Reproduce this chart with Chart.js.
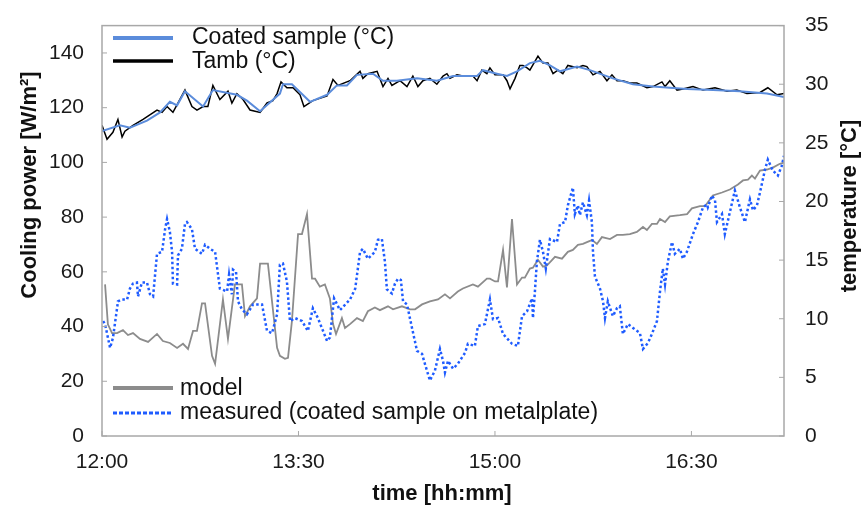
<!DOCTYPE html>
<html>
<head>
<meta charset="utf-8">
<script src="https://cdn.jsdelivr.net/npm/chart.js@4"></script>
<style>
html, body { margin: 0; padding: 0; background: #fff; }
#wrap { width: 864px; height: 509px; }
</style>
</head>
<body>
<div id="wrap"><canvas id="chart" width="864" height="509"></canvas></div>
<script>
// time in minutes after 12:00
const timeTicks = [0, 90, 180, 270];
const timeLabels = ['12:00', '13:30', '15:00', '16:30'];
const powerTicks = [0, 20, 40, 60, 80, 100, 120, 140];
const tempTicks = [0, 5, 10, 15, 20, 25, 30, 35];

const coatedTime = [0, 8.2, 12.8, 20.6, 26.6, 31.1, 34.4, 38.0, 46.3, 50.8, 61.8, 66.4, 72.4, 81.5, 82.9, 87.0, 95.3, 103.1, 107.6, 112.2, 116.8, 124.1, 128.7, 135.1, 144.3, 153.4, 160.8, 171.8, 174.5, 180.9, 185.5, 190.1, 196.0, 200.6, 205.2, 209.8, 217.6, 223.5, 234.0, 243.2, 252.4, 260.1, 268.0, 279.9, 292.2, 304.6, 312.4];
const coatedTemp = [26.0, 26.5, 26.3, 26.9, 27.6, 28.5, 28.2, 29.4, 28.1, 29.5, 29.1, 28.6, 27.7, 29.2, 30.0, 30.0, 28.5, 29.1, 29.9, 29.9, 30.8, 30.9, 30.3, 30.3, 30.5, 30.3, 30.7, 30.7, 31.2, 30.9, 30.7, 31.1, 31.8, 32.0, 31.6, 31.1, 31.5, 31.2, 30.5, 30.0, 29.8, 29.7, 29.6, 29.5, 29.4, 29.2, 28.9];

const tambTime = [0, 2.3, 5.0, 7.3, 9.2, 10.5, 14.2, 18.8, 25.2, 27.5, 29.8, 32.5, 35.7, 38.0, 41.2, 43.5, 46.3, 48.5, 50.8, 54.0, 57.7, 59.5, 61.8, 64.6, 67.8, 72.4, 75.6, 78.3, 80.2, 82.0, 84.7, 87.5, 90.7, 92.5, 96.6, 103.1, 105.8, 108.1, 113.6, 118.2, 119.5, 121.8, 126.0, 128.7, 131.0, 132.8, 136.5, 139.7, 142.4, 144.7, 147.0, 150.2, 153.4, 156.2, 158.0, 159.4, 162.6, 165.3, 169.9, 171.8, 174.0, 176.3, 177.7, 180.0, 183.7, 185.5, 186.9, 189.2, 191.4, 192.8, 194.7, 196.0, 199.7, 202.0, 204.3, 206.6, 208.8, 211.1, 213.4, 217.6, 220.3, 222.1, 224.9, 228.1, 231.3, 233.6, 235.9, 238.6, 241.8, 245.0, 249.6, 252.4, 256.5, 257.9, 260.1, 263.4, 266.1, 270.7, 275.3, 280.8, 286.3, 290.8, 295.4, 301.4, 305.0, 309.2, 312.4];
const tambTemp = [26.5, 25.3, 25.9, 27.0, 25.5, 26.0, 26.5, 27.0, 27.8, 27.6, 28.1, 27.6, 28.7, 29.5, 28.1, 27.8, 28.1, 28.1, 29.9, 28.7, 29.4, 28.4, 29.2, 28.7, 27.8, 27.6, 28.4, 28.6, 29.2, 30.2, 29.7, 29.7, 29.1, 28.1, 28.6, 29.0, 30.4, 29.9, 30.3, 31.1, 30.5, 30.9, 31.1, 29.8, 30.5, 29.9, 30.3, 29.8, 30.7, 29.8, 30.3, 30.5, 30.0, 30.7, 30.9, 30.5, 30.8, 30.7, 30.7, 30.3, 31.2, 30.9, 31.4, 30.8, 30.8, 30.3, 29.6, 30.5, 31.6, 31.6, 31.4, 31.2, 32.4, 31.8, 31.8, 30.9, 31.2, 30.9, 31.6, 31.4, 31.6, 31.5, 30.8, 31.1, 30.3, 30.8, 30.3, 30.3, 30.1, 30.1, 29.7, 29.8, 30.2, 29.8, 30.3, 29.5, 29.6, 29.8, 29.5, 29.7, 29.4, 29.5, 29.2, 29.3, 29.7, 29.1, 29.2];

const modelTime = [1.4, 2.7, 4.6, 6.9, 9.6, 11.9, 14.2, 17.4, 21.1, 25.2, 27.9, 31.1, 34.4, 37.1, 39.4, 41.7, 43.5, 45.8, 47.2, 50.4, 51.8, 55.4, 57.7, 60.9, 64.1, 65.5, 67.8, 71.0, 72.4, 76.0, 80.2, 81.5, 83.8, 85.2, 87.0, 89.8, 91.6, 93.9, 96.2, 97.6, 99.8, 102.1, 104.4, 105.8, 107.2, 109.9, 111.3, 113.6, 116.8, 119.5, 121.8, 125.0, 127.3, 131.0, 133.3, 137.4, 141.1, 143.4, 146.6, 150.2, 153.9, 157.1, 159.4, 163.0, 165.3, 169.9, 172.2, 176.3, 177.7, 180.0, 181.4, 183.7, 185.5, 187.8, 190.1, 192.4, 193.7, 196.0, 197.4, 199.7, 202.0, 203.8, 207.5, 210.7, 213.4, 215.7, 218.0, 220.3, 223.5, 224.4, 226.7, 229.0, 232.7, 235.9, 238.6, 241.8, 245.0, 247.8, 249.6, 251.9, 254.2, 255.6, 257.9, 260.1, 264.7, 268.0, 270.2, 273.9, 276.2, 279.8, 284.0, 287.6, 291.3, 293.6, 295.9, 297.7, 299.1, 301.4, 304.6, 307.3, 310.5, 312.4];
const modelPower = [55.4, 40.8, 37.6, 37.6, 38.7, 36.9, 37.6, 35.5, 34.4, 37.3, 34.7, 34.0, 32.2, 33.7, 31.8, 38.4, 38.4, 48.5, 48.5, 29.3, 26.4, 49.9, 35.5, 55.4, 55.4, 43.8, 47.4, 50.3, 63.0, 63.0, 32.2, 29.3, 28.2, 28.6, 42.0, 73.8, 73.8, 81.1, 57.5, 57.5, 54.6, 55.4, 50.3, 41.0, 37.3, 43.1, 39.5, 40.9, 43.1, 42.0, 45.6, 47.0, 46.0, 47.4, 46.3, 47.4, 46.3, 46.3, 48.1, 49.2, 49.9, 51.8, 50.3, 52.8, 53.9, 55.4, 54.6, 57.5, 57.5, 56.5, 56.5, 68.0, 54.3, 79.3, 55.4, 57.9, 57.9, 61.2, 61.5, 64.4, 61.9, 62.3, 65.5, 64.8, 67.3, 68.0, 69.9, 70.2, 71.3, 71.7, 70.2, 72.7, 72.0, 73.5, 73.5, 73.8, 74.6, 76.4, 75.3, 77.5, 77.5, 79.3, 78.2, 80.3, 80.7, 81.1, 83.2, 84.0, 84.0, 87.9, 89.0, 90.1, 91.9, 93.4, 93.7, 95.2, 94.1, 97.0, 97.4, 98.1, 99.5, 99.9];

const measuredTime = [0.5, 1.4, 3.7, 5.0, 6.9, 7.3, 9.2, 11.5, 12.8, 14.2, 16.0, 16.5, 18.3, 20.6, 22.0, 23.4, 25.2, 27.5, 28.9, 29.8, 31.1, 32.1, 32.5, 34.4, 34.8, 36.6, 38.0, 38.9, 41.2, 42.6, 45.8, 47.2, 49.5, 51.8, 54.0, 57.3, 58.2, 59.5, 60.0, 61.4, 62.3, 64.1, 66.4, 69.2, 73.3, 75.6, 77.9, 80.2, 81.5, 82.9, 84.7, 86.1, 88.4, 91.6, 94.3, 96.6, 98.9, 103.1, 104.4, 106.3, 109.0, 113.6, 116.0, 118.2, 119.5, 121.8, 125.0, 126.4, 128.2, 129.6, 130.5, 132.8, 134.2, 135.6, 136.9, 137.9, 139.7, 142.0, 144.3, 146.6, 147.9, 150.2, 152.5, 154.8, 156.2, 157.1, 158.5, 160.8, 163.0, 166.3, 167.6, 170.8, 172.2, 175.4, 177.7, 179.1, 181.4, 183.7, 187.8, 190.5, 192.4, 194.7, 197.0, 197.4, 198.3, 199.2, 200.6, 202.0, 203.3, 205.2, 208.4, 209.8, 212.1, 213.4, 215.7, 216.6, 218.0, 218.9, 220.3, 222.1, 223.1, 224.4, 224.9, 225.8, 228.1, 229.5, 230.4, 231.7, 234.0, 235.9, 237.2, 238.6, 240.9, 243.2, 246.4, 247.8, 250.1, 251.9, 254.2, 255.6, 256.9, 257.9, 259.2, 261.1, 262.4, 264.7, 266.1, 267.9, 270.7, 273.0, 275.3, 277.1, 277.5, 279.4, 280.8, 281.7, 284.0, 285.3, 287.6, 289.9, 292.2, 294.5, 296.8, 298.2, 300.0, 301.4, 303.7, 305.0, 307.3, 309.6, 311.4, 312.4];
const measuredPower = [42.0, 40.9, 32.2, 35.8, 46.7, 49.2, 49.9, 49.9, 53.9, 55.7, 56.1, 51.0, 56.1, 56.1, 51.8, 51.0, 66.6, 67.3, 75.6, 79.3, 74.6, 67.3, 55.7, 55.4, 66.0, 68.4, 77.5, 78.2, 75.6, 68.4, 66.6, 69.9, 68.4, 67.3, 53.9, 52.8, 59.0, 51.8, 60.8, 60.0, 49.2, 46.3, 44.5, 48.1, 48.1, 38.4, 37.6, 44.5, 62.6, 63.0, 56.5, 42.0, 43.1, 42.0, 38.4, 46.7, 43.1, 34.7, 36.0, 50.3, 46.0, 49.9, 53.9, 67.3, 68.4, 64.8, 67.3, 71.7, 72.0, 63.7, 53.6, 52.1, 55.7, 57.5, 57.0, 49.2, 48.1, 39.5, 31.1, 30.0, 26.4, 20.3, 23.9, 31.8, 27.5, 23.2, 27.5, 24.6, 26.4, 30.4, 33.7, 32.9, 40.2, 40.9, 49.9, 42.7, 43.1, 37.3, 33.7, 32.9, 43.8, 45.6, 50.3, 43.1, 52.8, 63.7, 71.7, 67.3, 61.2, 72.0, 70.9, 77.5, 78.2, 84.3, 90.8, 81.1, 84.3, 80.7, 85.4, 80.7, 86.1, 78.2, 67.3, 58.3, 53.9, 49.2, 43.1, 49.2, 43.8, 46.7, 47.4, 37.3, 40.9, 39.5, 37.6, 31.8, 34.0, 37.3, 42.0, 52.8, 61.2, 55.4, 63.7, 70.9, 66.6, 68.4, 64.8, 67.3, 73.8, 78.2, 83.6, 84.7, 83.6, 87.9, 86.1, 78.2, 81.1, 73.8, 81.8, 89.7, 83.6, 78.2, 86.5, 82.5, 84.3, 89.0, 97.4, 101.0, 97.0, 95.2, 98.8, 102.4];

function pairs(xs, ys) {
    return xs.map((x, i) => ({ x: x, y: ys[i] }));
}

const FONT = '"Liberation Sans", Arial, sans-serif';
const frameColor = '#a8a8a8';

const datasets = [
    { label: 'Coated sample (°C)', data: pairs(coatedTime, coatedTemp), yAxisID: 'y1',
      borderColor: '#5b8cdb', borderWidth: 2, order: 1, legendWidth: 4 },
    { label: 'Tamb (°C)', data: pairs(tambTime, tambTemp), yAxisID: 'y1',
      borderColor: '#000000', borderWidth: 1.5, order: 2, legendWidth: 3.5 },
    { label: 'model', data: pairs(modelTime, modelPower), yAxisID: 'y',
      borderColor: '#8c8c8c', borderWidth: 1.8, order: 4, legendWidth: 4 },
    { label: 'measured (coated sample on metalplate)', data: pairs(measuredTime, measuredPower), yAxisID: 'y',
      borderColor: '#1f5cff', borderWidth: 2.5, borderDash: [2.5, 2.5], order: 3, legendWidth: 3, legendDash: [4, 2] }
];

function drawLegendItem(ctx, ds, x1, x2, y, tx, ty) {
    ctx.save();
    ctx.strokeStyle = ds.borderColor;
    ctx.lineWidth = ds.legendWidth;
    ctx.setLineDash(ds.legendDash || []);
    ctx.beginPath();
    ctx.moveTo(x1, y);
    ctx.lineTo(x2, y);
    ctx.stroke();
    ctx.setLineDash([]);
    ctx.fillStyle = '#111';
    ctx.font = '23px ' + FONT;
    ctx.textBaseline = 'middle';
    ctx.fillText(ds.label, tx, ty);
    ctx.restore();
}

function drawTitle(ctx, text, x, y, rot) {
    ctx.save();
    ctx.translate(x, y);
    ctx.rotate(rot);
    ctx.fillStyle = '#111';
    ctx.font = 'bold 22px ' + FONT;
    ctx.textAlign = 'center';
    ctx.textBaseline = 'middle';
    ctx.fillText(text, 0, 0);
    ctx.restore();
}

// frame, inward ticks, axis titles and the two legends
const decorations = {
    id: 'decorations',
    afterDraw(chart) {
        const ctx = chart.ctx;
        const a = chart.chartArea;
        const sx = chart.scales.x, sy = chart.scales.y, sy1 = chart.scales.y1;
        ctx.save();
        ctx.strokeStyle = frameColor;
        ctx.lineWidth = 1.5;
        ctx.strokeRect(a.left, a.top, a.right - a.left, a.bottom - a.top);
        ctx.lineWidth = 1;
        ctx.beginPath();
        timeTicks.forEach(v => {
            const px = sx.getPixelForValue(v);
            ctx.moveTo(px, a.bottom);
            ctx.lineTo(px, a.bottom - 5);
        });
        powerTicks.forEach(v => {
            const py = sy.getPixelForValue(v);
            ctx.moveTo(a.left, py);
            ctx.lineTo(a.left + 5, py);
        });
        tempTicks.forEach(v => {
            const py = sy1.getPixelForValue(v);
            ctx.moveTo(a.right, py);
            ctx.lineTo(a.right - 5, py);
        });
        ctx.stroke();
        ctx.restore();

        drawTitle(ctx, 'Cooling power [W/m²]', 30, 185, -Math.PI / 2);
        drawTitle(ctx, 'temperature [°C]', 850, 206, -Math.PI / 2);
        drawTitle(ctx, 'time [hh:mm]', 442, 494, 0);

        const ds = chart.data.datasets;
        drawLegendItem(ctx, ds[0], 113, 173, 38, 192, 38);
        drawLegendItem(ctx, ds[1], 113, 173, 61, 192, 62);
        drawLegendItem(ctx, ds[2], 113, 173, 388, 180, 389);
        drawLegendItem(ctx, ds[3], 113, 173, 413, 180, 413);
    }
};

const tickFont = { family: FONT, size: 21 };

new Chart(document.getElementById('chart'), {
    type: 'line',
    data: { datasets: datasets },
    options: {
        responsive: false,
        devicePixelRatio: 1,
        animation: false,
        layout: { padding: { top: 22, left: 0, right: 0, bottom: 0 } },
        elements: {
            point: { radius: 0 },
            line: { tension: 0, fill: false }
        },
        plugins: {
            legend: { display: false },
            tooltip: { enabled: false },
            title: { display: false }
        },
        scales: {
            x: {
                type: 'linear',
                min: 0,
                max: 312.4,
                grid: { display: false },
                border: { display: false },
                afterBuildTicks: s => { s.ticks = timeTicks.map(v => ({ value: v })); },
                afterFit: s => { s.height = 73; },
                ticks: {
                    font: tickFont,
                    color: '#1a1a1a',
                    padding: 6,
                    maxRotation: 0,
                    autoSkip: false,
                    callback: v => timeLabels[timeTicks.indexOf(v)]
                }
            },
            y: {
                position: 'left',
                min: 0,
                max: 150,
                grid: { display: false },
                border: { display: false },
                afterBuildTicks: s => { s.ticks = powerTicks.map(v => ({ value: v })); },
                afterFit: s => { s.width = 102; },
                ticks: { font: tickFont, color: '#1a1a1a', padding: 10 }
            },
            y1: {
                position: 'right',
                min: 0,
                max: 35,
                grid: { display: false },
                border: { display: false },
                afterBuildTicks: s => { s.ticks = tempTicks.map(v => ({ value: v })); },
                afterFit: s => { s.width = 80; },
                ticks: { font: tickFont, color: '#1a1a1a', padding: 13 }
            }
        }
    },
    plugins: [decorations]
});
</script>
</body>
</html>
